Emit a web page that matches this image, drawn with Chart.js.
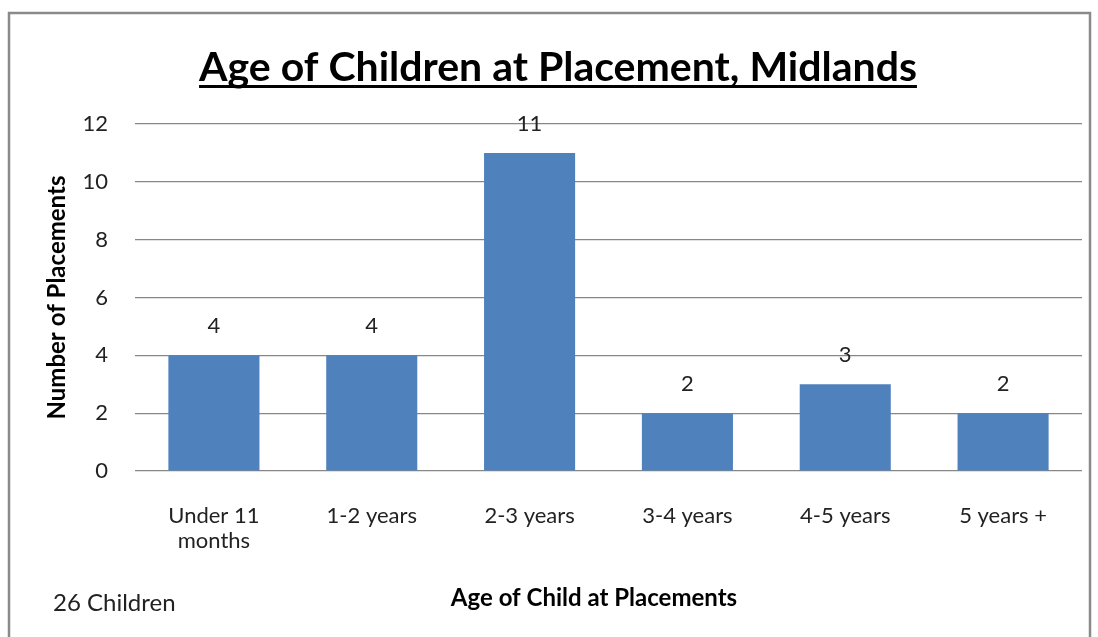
<!DOCTYPE html>
<html>
<head>
<meta charset="utf-8">
<title>Age of Children at Placement, Midlands</title>
<script src="https://cdn.jsdelivr.net/npm/chart.js@4"></script>
<style>
  body { margin: 0; background: #fff; }
  canvas { display: block; }
</style>
</head>
<body>
<canvas id="chart" width="1098" height="637"></canvas>
<script>
const categories = [["Under 11", "months"], "1-2 years", "2-3 years", "3-4 years", "4-5 years", "5 years +"];
const placements = [4, 4, 11, 2, 3, 2];
const yTicks = [0, 2, 4, 6, 8, 10, 12];

const chartTitle = "Age of Children at Placement, Midlands";
const xTitle = "Age of Child at Placements";
const yTitle = "Number of Placements";
const footNote = "26 Children";

const FONT = "Lato, 'Open Sans', sans-serif";

// frame, title, data labels and the loose texts
const extras = {
  id: "extras",
  beforeDraw(chart) {
    const ctx = chart.ctx;
    ctx.save();
    ctx.strokeStyle = "#8a8a8a";
    ctx.lineWidth = 2.5;
    ctx.strokeRect(9, 13, 1081, 700);
    ctx.restore();
  },
  afterDraw(chart) {
    const ctx = chart.ctx;
    ctx.save();

    // title with underline
    ctx.font = "bold 41px " + FONT;
    ctx.fillStyle = "#000";
    ctx.textAlign = "center";
    ctx.textBaseline = "alphabetic";
    const tx = 558, ty = 81;
    ctx.fillText(chartTitle, tx, ty);
    const w = ctx.measureText(chartTitle).width;
    ctx.fillRect(tx - w / 2, ty + 4, w, 3);

    // value labels above bars
    ctx.font = "22px " + FONT;
    ctx.fillStyle = "#222";
    ctx.textBaseline = "middle";
    chart.getDatasetMeta(0).data.forEach((bar, i) => {
      ctx.fillText(String(placements[i]), bar.x, bar.y - 29);
    });

    // x axis title
    ctx.font = "bold 24px " + FONT;
    ctx.fillStyle = "#000";
    ctx.fillText(xTitle, 594, 598);

    // note
    ctx.font = "24px " + FONT;
    ctx.fillStyle = "#222";
    ctx.textAlign = "left";
    ctx.fillText(footNote, 53, 603);

    ctx.restore();
  }
};

new Chart(document.getElementById("chart"), {
  type: "bar",
  data: {
    labels: categories,
    datasets: [{
      data: placements,
      backgroundColor: "#4f81bd",
      borderWidth: 0,
      categoryPercentage: 1,
      barPercentage: 0.577
    }]
  },
  options: {
    responsive: false,
    animation: false,
    layout: { padding: { top: 124, right: 16, left: 0, bottom: 0 } },
    plugins: {
      legend: { display: false },
      title: { display: false },
      tooltip: { enabled: false }
    },
    scales: {
      x: {
        grid: { display: false },
        border: { display: false },
        ticks: {
          color: "#222",
          font: { family: FONT, size: 22, lineHeight: 1.15 },
          padding: 24,
          maxRotation: 0,
          autoSkip: false
        },
        afterFit(scale) {
          scale.height = 166;
          scale.paddingLeft = 0;
          scale.paddingRight = 0;
        }
      },
      y: {
        min: 0,
        max: 12,
        afterBuildTicks(scale) {
          scale.ticks = yTicks.map(v => ({ value: v }));
        },
        grid: { color: "#878787", lineWidth: 1.2, drawTicks: false },
        border: { display: false },
        ticks: {
          color: "#222",
          font: { family: FONT, size: 22 },
          padding: 27
        },
        title: {
          display: true,
          text: yTitle,
          color: "#000",
          font: { family: FONT, size: 24, weight: "bold" },
          padding: { top: 43, bottom: 0 }
        },
        afterFit(scale) {
          scale.width = 135;
          scale.paddingTop = 0;
          scale.paddingBottom = 0;
        }
      }
    }
  },
  plugins: [extras]
});
</script>
</body>
</html>
